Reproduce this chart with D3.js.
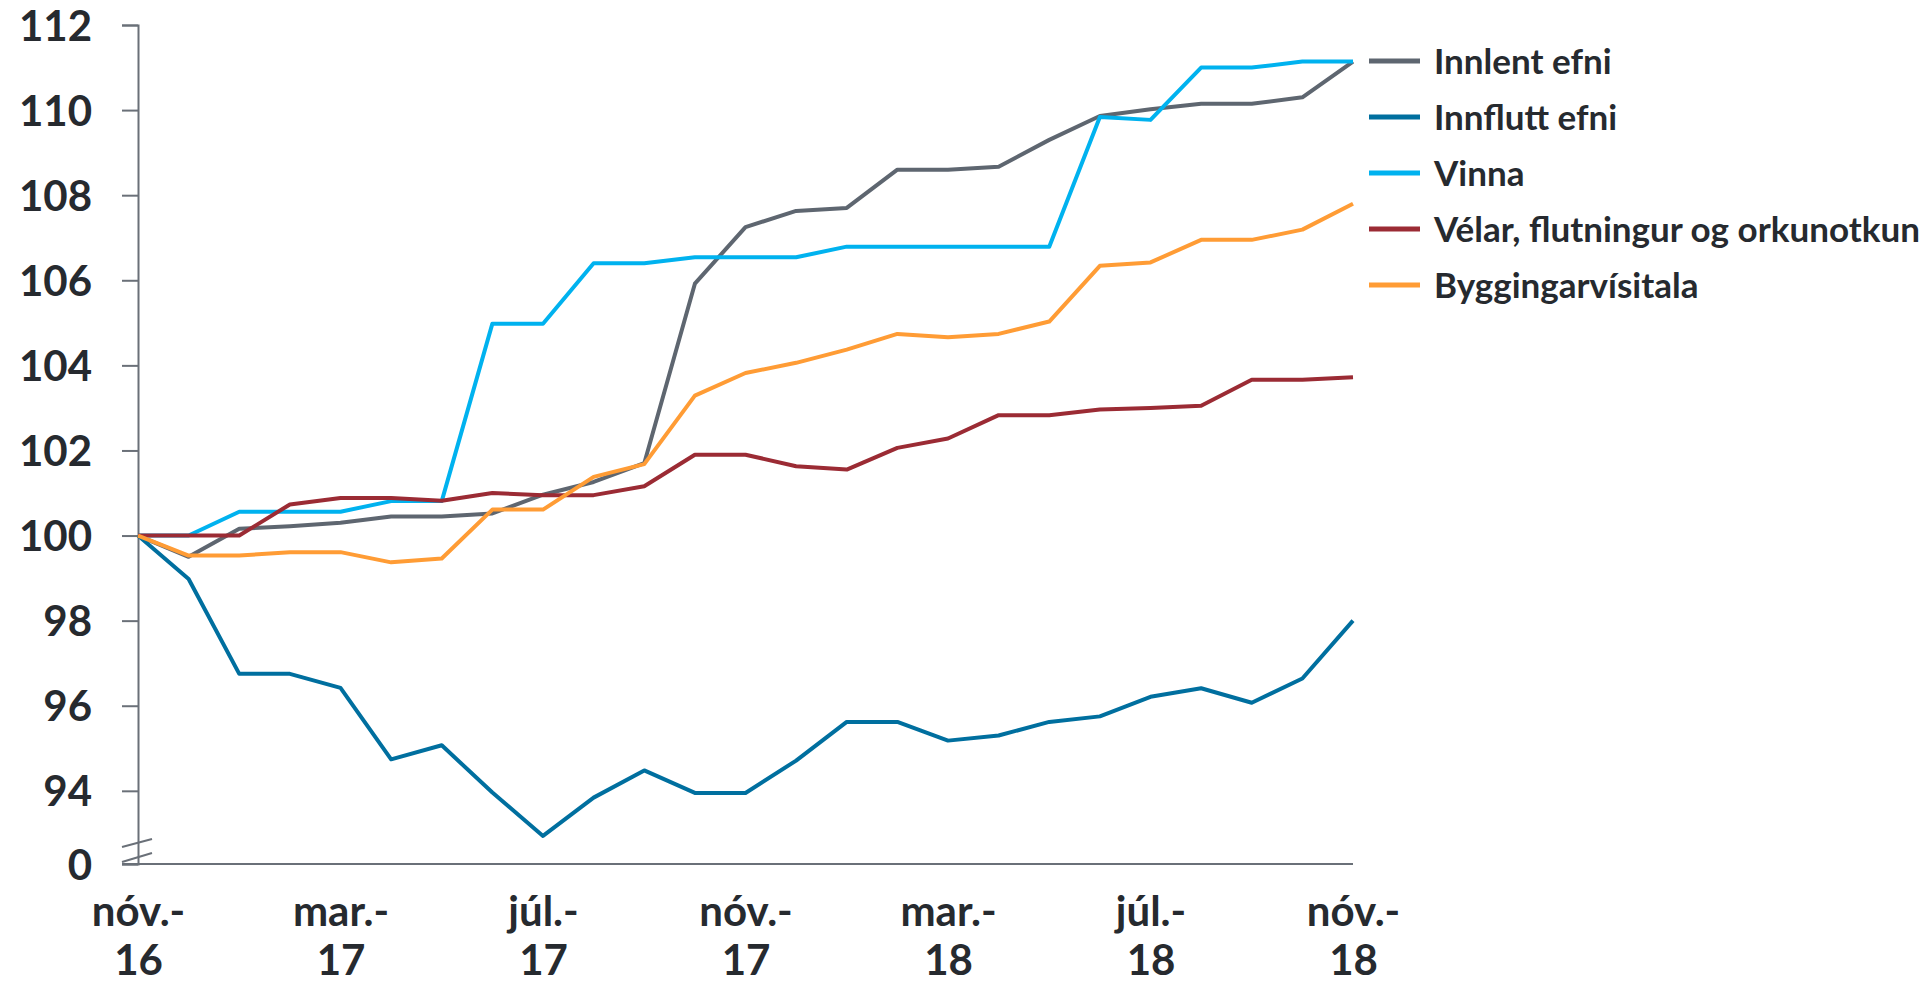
<!DOCTYPE html>
<html>
<head>
<meta charset="utf-8">
<script src="https://cdn.jsdelivr.net/npm/d3@7"></script>
<style>
  html, body { margin: 0; padding: 0; background: #ffffff; overflow: hidden; }
  svg { display: block; }
  text { font-family: Lato, "Open Sans", "Noto Sans", sans-serif; font-weight: 700; fill: #262a2f; }
</style>
</head>
<body>
<svg id="chart" width="1920" height="987"></svg>
<script>
// ---- data ----
const months = ["nóv.-16","des.-16","jan.-17","feb.-17","mar.-17","apr.-17","maí.-17","jún.-17","júl.-17","ágú.-17","sep.-17","okt.-17",
                "nóv.-17","des.-17","jan.-18","feb.-18","mar.-18","apr.-18","maí.-18","jún.-18","júl.-18","ágú.-18","sep.-18","okt.-18","nóv.-18"];
const xTickIndex = [0, 4, 8, 12, 16, 20, 24];
const xTickLine1 = ["nóv.-","mar.-","júl.-","nóv.-","mar.-","júl.-","nóv.-"];
const xTickLine2 = ["16","17","17","17","18","18","18"];
const yTicks = [94, 96, 98, 100, 102, 104, 106, 108, 110, 112];
const yBreakLabel = "0";

const seriesNames = ["Innlent efni","Innflutt efni","Vinna","Vélar, flutningur og orkunotkun","Byggingarvísitala"];
const innlent   = [100, 99.5, 100.16, 100.22, 100.3, 100.45, 100.45, 100.52, 100.96, 101.26, 101.7, 105.92, 107.25, 107.63, 107.7, 108.6, 108.6, 108.67, 109.3, 109.86, 110.02, 110.15, 110.15, 110.3, 111.14];
const innflutt  = [100, 98.98, 96.75, 96.75, 96.42, 94.74, 95.07, 93.96, 92.94, 93.84, 94.48, 93.95, 93.95, 94.71, 95.62, 95.62, 95.18, 95.3, 95.62, 95.75, 96.21, 96.41, 96.07, 96.64, 98.0];
const vinna     = [100, 100, 100.56, 100.56, 100.56, 100.81, 100.81, 104.98, 104.98, 106.4, 106.4, 106.54, 106.54, 106.54, 106.79, 106.79, 106.79, 106.79, 106.79, 109.84, 109.77, 111.0, 111.0, 111.14, 111.14];
const velar     = [100, 100, 100, 100.73, 100.88, 100.88, 100.82, 101.0, 100.95, 100.95, 101.16, 101.9, 101.9, 101.63, 101.55, 102.06, 102.28, 102.83, 102.83, 102.96, 103.0, 103.05, 103.66, 103.66, 103.72];
const bygging   = [100, 99.53, 99.53, 99.61, 99.61, 99.37, 99.46, 100.61, 100.61, 101.38, 101.68, 103.29, 103.82, 104.06, 104.37, 104.74, 104.66, 104.74, 105.03, 106.34, 106.42, 106.95, 106.95, 107.19, 107.8];
const seriesColors = ["#5e6670", "#006f9f", "#00b2ef", "#9b2b34", "#ff9c35"];

// ---- layout ----
const svg = d3.select("#chart");
const plot = { left: 138, right: 1353, top: 25, bottom: 864 };
const yMin = 92.28, yMax = 112;

const x = d3.scaleLinear().domain([0, months.length - 1]).range([plot.left, plot.right]);
const y = d3.scaleLinear().domain([yMin, yMax]).range([plot.bottom, plot.top]);

const axisColor = "#6a7078";

// y axis
const yAxis = d3.axisLeft(y)
  .tickValues([yMin].concat(yTicks))
  .tickSize(16)
  .tickPadding(30)
  .tickFormat(d => d === yMin ? yBreakLabel : String(d));
const gy = svg.append("g").attr("transform", `translate(${plot.left},0)`).call(yAxis);
gy.select(".domain").attr("stroke", axisColor).attr("stroke-width", 2);
gy.selectAll(".tick line").attr("stroke", axisColor).attr("stroke-width", 2);
gy.selectAll(".tick text").style("font-size", "42px").attr("fill", "#262a2f").attr("dy", "0.36em");

// x axis line (extends left to tick length)
svg.append("line")
  .attr("x1", plot.left - 16).attr("x2", plot.right)
  .attr("y1", y(yMin)).attr("y2", y(yMin))
  .attr("stroke", axisColor).attr("stroke-width", 2);

// axis break marks
const by = y(yMin);
[[-17, -25], [-2, -11]].forEach(([a, b]) => {
  svg.append("line")
    .attr("x1", plot.left - 16).attr("y1", by + a)
    .attr("x2", plot.left + 14).attr("y2", by + b)
    .attr("stroke", axisColor).attr("stroke-width", 2);
});

// x axis labels
const xAxis = d3.axisBottom(x).tickValues(xTickIndex).tickSize(0).tickFormat("");
const gx = svg.append("g").attr("transform", `translate(0,${plot.bottom})`).call(xAxis);
gx.select(".domain").remove();
gx.selectAll(".tick").each(function(d, i) {
  const t = d3.select(this);
  t.append("text").attr("text-anchor", "middle").attr("y", 62).style("font-size", "42px").text(xTickLine1[i]);
  t.append("text").attr("text-anchor", "middle").attr("y", 111).style("font-size", "42px").text(xTickLine2[i]);
});

// lines
const allSeries = [innlent, innflutt, vinna, velar, bygging];
const line = d3.line().x((d, i) => x(i)).y(d => y(d));
svg.append("g").selectAll("path")
  .data(allSeries)
  .join("path")
  .attr("d", d => line(d))
  .attr("fill", "none")
  .attr("stroke", (d, i) => seriesColors[i])
  .attr("stroke-width", 4)
  .attr("stroke-linejoin", "round");

// legend
const legend = svg.append("g");
const legendY = d3.scalePoint().domain(seriesNames).range([61, 285]);
seriesNames.forEach((name, i) => {
  const ly = legendY(name);
  legend.append("line")
    .attr("x1", 1369).attr("x2", 1420).attr("y1", ly).attr("y2", ly)
    .attr("stroke", seriesColors[i]).attr("stroke-width", 5);
  legend.append("text")
    .attr("x", 1434).attr("y", ly).attr("dy", "0.36em")
    .style("font-size", "35px").text(name);
});
</script>
</body>
</html>
